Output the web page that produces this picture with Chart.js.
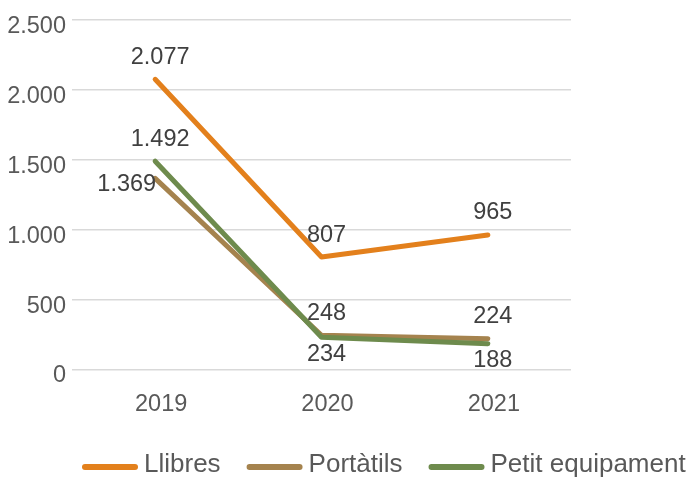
<!DOCTYPE html>
<html>
<head>
<meta charset="utf-8">
<script src="https://cdn.jsdelivr.net/npm/chart.js@4.4.1/dist/chart.umd.min.js"></script>
<style>
  html, body { margin: 0; padding: 0; background: #fff; }
</style>
</head>
<body>
<canvas id="chart" width="693" height="477"></canvas>
<script>
const years = ['2019', '2020', '2021']
const llibres = [2077, 807, 965]
const portatils = [1369, 248, 224]
const petitEquipament = [1492, 234, 188]
const yTicks = [0, 500, 1000, 1500, 2000, 2500]

const FONT = '"Liberation Sans", Arial, sans-serif'

// 2077 -> "2.077"
function fmt(v) {
  return String(v).replace(/\B(?=(\d{3})+(?!\d))/g, '.')
}

// value labels next to each point
const pointLabels = {
  id: 'pointLabels',
  afterDatasetsDraw(chart) {
    const ctx = chart.ctx
    ctx.save()
    ctx.font = '23.5px ' + FONT
    ctx.fillStyle = '#404040'
    ctx.textBaseline = 'middle'
    chart.data.datasets.forEach((ds, i) => {
      chart.getDatasetMeta(i).data.forEach((pt, j) => {
        const pos = ds.labelPos[j]
        let x = pt.x + 5
        let y = pt.y
        ctx.textAlign = 'center'
        if (pos === 'top') y -= 22
        else if (pos === 'bottom') y += 17
        else { ctx.textAlign = 'right'; x = pt.x + 1; y += 6 }
        ctx.fillText(fmt(ds.data[j]), x, y)
      })
    })
    ctx.restore()
  }
}

// legend drawn under the x axis, line sample + text
const bottomLegend = {
  id: 'bottomLegend',
  afterDraw(chart) {
    const ctx = chart.ctx
    ctx.save()
    ctx.font = '26px ' + FONT
    ctx.textBaseline = 'middle'
    ctx.textAlign = 'left'
    ctx.lineWidth = 6
    ctx.lineCap = 'round'
    let x = 85
    chart.data.datasets.forEach(ds => {
      ctx.strokeStyle = ds.borderColor
      ctx.beginPath()
      ctx.moveTo(x, 467)
      ctx.lineTo(x + 50, 467)
      ctx.stroke()
      ctx.fillStyle = '#595959'
      ctx.fillText(ds.label, x + 59, 464.5)
      x += 59 + ctx.measureText(ds.label).width + 29
    })
    ctx.restore()
  }
}

const ctx = document.getElementById('chart').getContext('2d')
new Chart(ctx, {
  type: 'line',
  data: {
    labels: years,
    datasets: [
      {
        label: 'Llibres',
        data: llibres,
        borderColor: '#E3801C',
        labelPos: ['top', 'top', 'top'],
        order: 0
      },
      {
        label: 'Portàtils',
        data: portatils,
        borderColor: '#A5834E',
        labelPos: ['left', 'top', 'top'],
        order: 2
      },
      {
        label: 'Petit equipament',
        data: petitEquipament,
        borderColor: '#6E8B4D',
        labelPos: ['top', 'bottom', 'bottom'],
        order: 1
      }
    ]
  },
  options: {
    responsive: false,
    animation: false,
    layout: { padding: { top: 18, right: 122, bottom: 57, left: 0 } },
    elements: {
      line: { borderWidth: 5, borderCapStyle: 'round', borderJoinStyle: 'round', tension: 0, fill: false },
      point: { radius: 0, hoverRadius: 0 }
    },
    plugins: {
      legend: { display: false },
      tooltip: { enabled: false }
    },
    scales: {
      x: {
        offset: true,
        grid: { display: false, drawTicks: false },
        border: { display: false },
        ticks: { color: '#595959', font: { family: FONT, size: 23.5 }, padding: 20, labelOffset: 6 },
        afterFit: axis => { axis.height = 50 }
      },
      y: {
        min: 0,
        max: 2500,
        grid: { color: '#d9d9d9', lineWidth: 1.5, drawTicks: false },
        border: { display: false },
        ticks: {
          color: '#595959',
          font: { family: FONT, size: 23.5 },
          padding: 6,
          labelOffset: 6,
          callback: v => fmt(v)
        },
        afterBuildTicks: axis => { axis.ticks = yTicks.map(v => ({ value: v })) },
        afterFit: axis => { axis.width = 72 }
      }
    }
  },
  plugins: [pointLabels, bottomLegend]
})
</script>
</body>
</html>
